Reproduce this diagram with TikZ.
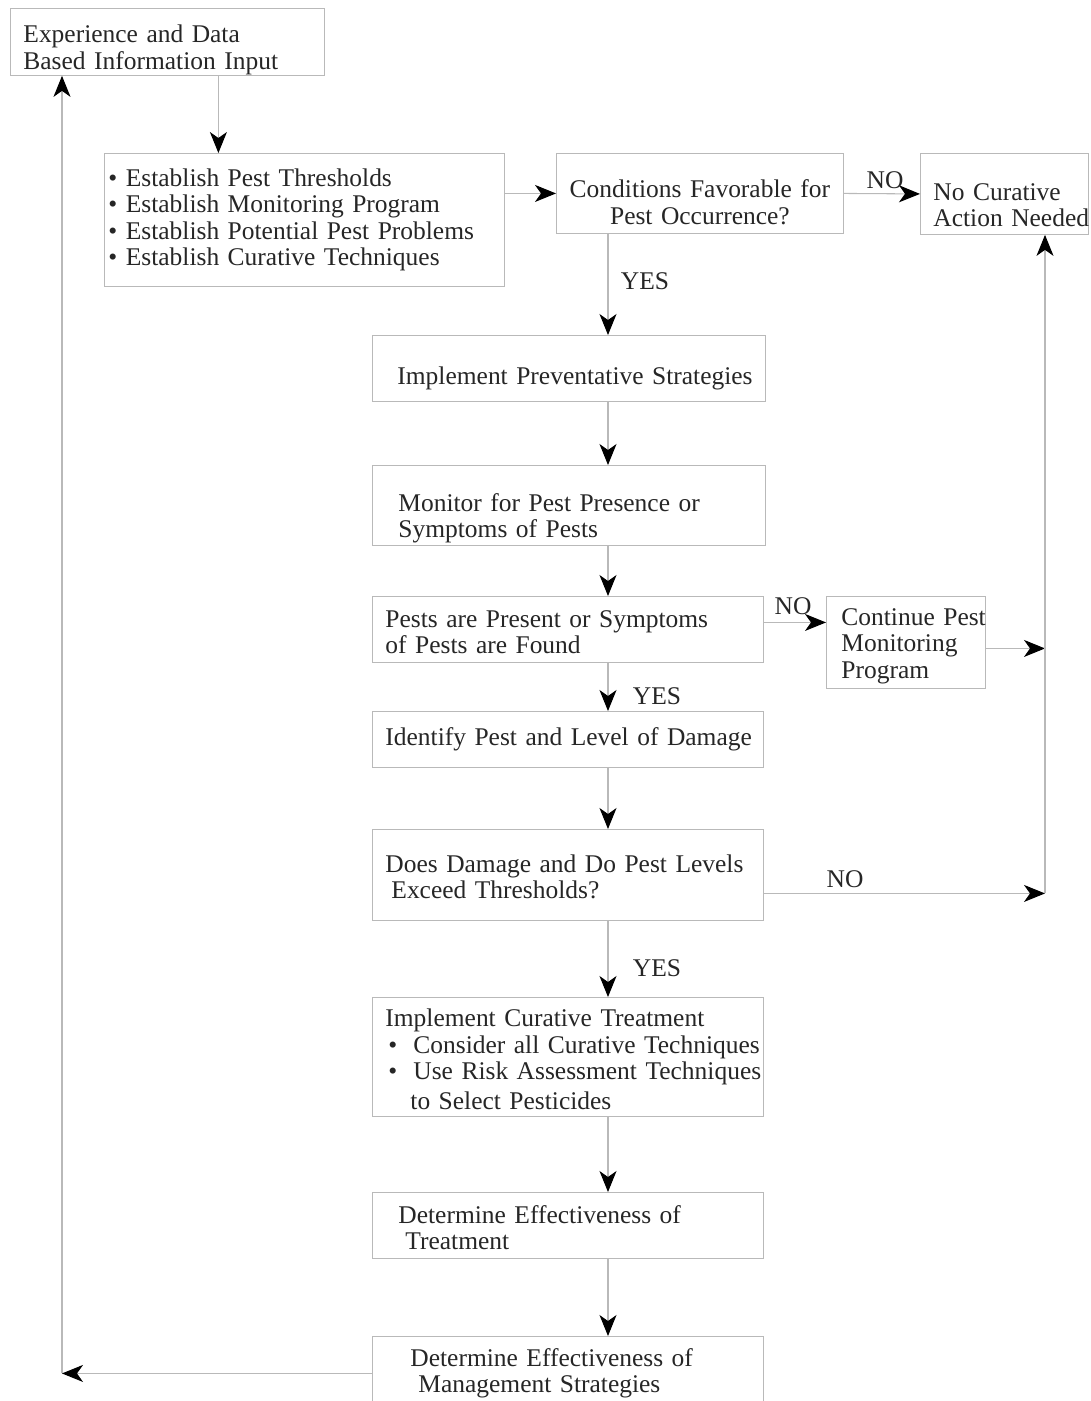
\documentclass[tikz,border=0pt]{standalone}
\usepackage{fontspec}
\setmainfont{Liberation Serif}
\usetikzlibrary{arrows.meta}
\newcommand{\fsz}{\fontsize{14.5}{15}\selectfont}
\newcommand{\bul}{\hspace*{0.06cm}\makebox[0.5cm][l]{\textbullet}}
\newcommand{\dn}[1]{\rule{0pt}{#1}}

\begin{document}
\begin{tikzpicture}[x=0.02cm, y=-0.02cm,
  box/.style={draw=gray!55, line width=0.5pt, anchor=north west, inner xsep=0pt,
              inner ysep=0pt, align=left, font=\fsz, text=black!85},
  txtin/.style={execute at begin node={\leftskip=#1}},
  conn/.style={draw=gray!55, line width=0.6pt,
               -{Stealth[length=0.42cm, width=0.34cm, inset=0.12cm, color=black]}},
  lbl/.style={font=\fsz, text=black!85, inner sep=0pt}]
  \useasboundingbox (0,0) rectangle (1090,1401);
  \coordinate (spine) at ( 608, 0);
  \coordinate (rail)  at (1045, 0);
  \coordinate (back)  at (  62, 0);
  \node[box, txtin=0.26cm, text width=6.28cm, minimum height=1.34cm] (exp)    at ( 10,   8)
    {\dn{19pt}Experience and Data\\Based Information Input};
  \node[box, txtin=0.08cm, text width=8.00cm, minimum height=2.66cm] (est)    at (104, 153)
    {\textbullet\ Establish Pest Thresholds\\\textbullet\ Establish Monitoring Program\\
     \textbullet\ Establish Potential Pest Problems\\\textbullet\ Establish Curative Techniques};
  \node[box, align=center, text width=5.74cm, minimum height=1.60cm] (cond)   at (556, 153)
    {\dn{20pt}Conditions Favorable for\\Pest Occurrence?};
  \node[box, txtin=0.26cm, text width=3.36cm, minimum height=1.62cm] (nocur)  at (920, 153)
    {\dn{22.5pt}\mbox{No Curative}\\\mbox{Action Needed}};
  \node[box, txtin=0.50cm, text width=7.86cm, minimum height=1.32cm] (prev)   at (372, 335)
    {\dn{21.4pt}Implement Preventative Strategies};
  \node[box, txtin=0.52cm, text width=7.86cm, minimum height=1.60cm] (mon)    at (372, 465)
    {\dn{24.8pt}Monitor for Pest Presence or\\Symptoms of Pests};
  \node[box, txtin=0.26cm, text width=7.82cm, minimum height=1.32cm] (pres)   at (372, 596)
    {\dn{13pt}Pests are Present or Symptoms\\of Pests are Found};
  \node[box, txtin=0.30cm, text width=3.18cm, minimum height=1.84cm] (cont)   at (826, 596)
    {\dn{14pt}\mbox{Continue Pest}\\\mbox{Monitoring}\\\mbox{Program}};
  \node[box, txtin=0.26cm, text width=7.82cm, minimum height=1.12cm] (ident)  at (372, 711)
    {Identify Pest and Level of Damage};
  \node[box, txtin=0.26cm, text width=7.82cm, minimum height=1.82cm] (exceed) at (372, 829)
    {\dn{12pt}Does Damage and Do Pest Levels\\\hspace*{0.12cm}Exceed Thresholds?};
  \node[box, txtin=0.26cm, text width=7.82cm, minimum height=2.38cm] (cura)   at (372, 997)
    {\dn{13pt}Implement Curative Treatment\\\bul Consider all Curative Techniques\\
     \bul Use Risk Assessment Techniques\\[2pt]\hspace*{0.5cm}to Select Pesticides};
  \node[box, txtin=0.52cm, text width=7.82cm, minimum height=1.32cm] (deteff) at (372,1192)
    {\dn{13pt}Determine Effectiveness of\\\hspace*{0.14cm}Treatment};
  \node[box, txtin=0.76cm, text width=7.82cm, minimum height=1.48cm] (mgmt)   at (372,1336)
    {Determine Effectiveness of\\\hspace*{0.16cm}Management Strategies};
  \draw[conn] ([xshift=1.02cm]exp.south) -- ([xshift=1.02cm]exp.south |- est.north);
  \draw[conn] (cond.west -| est.east) -- (cond.west);
  \draw[conn] (cond.east) -- (nocur.west);
  \draw[conn] (spine |- cond.south)  -- (spine |- prev.north);
  \draw[conn] (spine |- prev.south)  -- (spine |- mon.north);
  \draw[conn] (spine |- mon.south)   -- (spine |- pres.north);
  \draw[conn] (spine |- pres.south)  -- (spine |- ident.north);
  \draw[conn] (spine |- ident.south) -- (spine |- exceed.north);
  \draw[conn] (spine |- exceed.south) -- (spine |- cura.north);
  \draw[conn] (spine |- cura.south)  -- (spine |- deteff.north);
  \draw[conn] (spine |- deteff.south) -- (spine |- mgmt.north);
  \draw[conn] ([yshift=0.14cm]pres.east) -- ([yshift=0.14cm]pres.east -| cont.west);
  \draw[conn] ([yshift=-0.12cm]cont.east) -- ([yshift=-0.12cm]cont.east -| rail);
  \draw[conn] ([yshift=-0.37cm]exceed.east) -- ([yshift=-0.37cm]exceed.east -| rail);
  \draw[conn] ([yshift=-0.37cm]exceed.east -| rail) -- (rail |- nocur.south);
  \draw[conn] (mgmt.west) -- (mgmt.west -| back);
  \draw[conn] (mgmt.west -| back) -- (back |- exp.south);
  \node[lbl] (no1)  at (885, 180) {NO};
  \node[lbl] (yes1) at (645, 281) {YES};
  \node[lbl] (no2)  at (793, 606) {NO};
  \node[lbl] (yes2) at (657, 696) {YES};
  \node[lbl] (no3)  at (845, 879) {NO};
  \node[lbl] (yes3) at (657, 968) {YES};
\end{tikzpicture}
\end{document}
